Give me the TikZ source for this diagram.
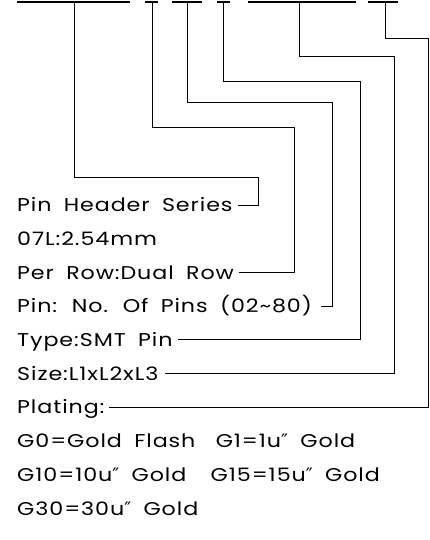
\documentclass[tikz,border=0pt]{standalone}
\usepackage{fontspec}
\setmainfont{Poppins}[FakeStretch=1.2,LetterSpace=5,WordSpace=1.8]
\newfontfamily\primefont{DejaVu Sans}
\newcommand{\uin}{u{\primefont\char"2033}}
\usetikzlibrary{positioning}

\begin{document}
\begin{tikzpicture}[x=1pt,y=-1pt,
  bar/.style={line width=1.4pt},
  lead/.style={line width=0.9pt},
  lbl/.style={anchor=west,inner sep=0pt,font=\fontsize{18.5}{18.5}\selectfont,
    text height=13.5pt,text depth=0pt}
]
  \useasboundingbox (0,0) rectangle (429,540);
  % code field bars
  \foreach \a/\b in {17/130, 145/158, 172/202, 217/230, 248/356, 368/398} {
    \draw[bar] (\a,2) -- (\b,2);
  }
  \coordinate (t1) at (74,2);
  \coordinate (t2) at (152,2);
  \coordinate (t3) at (187,2);
  \coordinate (t4) at (223,2);
  \coordinate (t5) at (299,2);
  \coordinate (t6) at (385,2);
  % legend
  \node[lbl] (series)  at (17,205)   {Pin Header Series};
  \node[lbl] (pitch)   at (17,238.7) {07L:2.54mm};
  \node[lbl] (perrow)  at (17,272.4) {Per Row:Dual Row};
  \node[lbl] (pins)    at (17,306.1) {Pin: No. Of Pins (02\textasciitilde80)};
  \node[lbl] (type)    at (17,339.8) {Type:SMT Pin};
  \node[lbl] (size)    at (17,373.5) {Size:L1xL2xL3};
  \node[lbl] (plating) at (17,407.2) {Plating:};
  \node[lbl] (gA)      at (17,440.9) {G0=Gold Flash\hspace{8pt} G1=1\uin{} Gold};
  \node[lbl] (gB)      at (17,474.6) {G10=10\uin{} Gold\hspace{12pt} G15=15\uin{} Gold};
  \node[lbl] (gC)      at (17,508.3) {G30=30\uin{} Gold};
  % leaders
  \draw[lead] (t1) |- (258,177) |- ([xshift=5pt]series.east);
  \draw[lead] (t2) |- (294,127) |- ([xshift=5pt]perrow.east);
  \draw[lead] (t3) |- (332,102) |- ([xshift=9pt]pins.east);
  \draw[lead] (t4) |- (360,81)  |- ([xshift=5pt]type.east);
  \draw[lead] (t5) |- (394,56)  |- ([xshift=6pt]size.east);
  \draw[lead] (t6) |- (428,38)  |- ([xshift=4pt]plating.east);
\end{tikzpicture}
\end{document}
